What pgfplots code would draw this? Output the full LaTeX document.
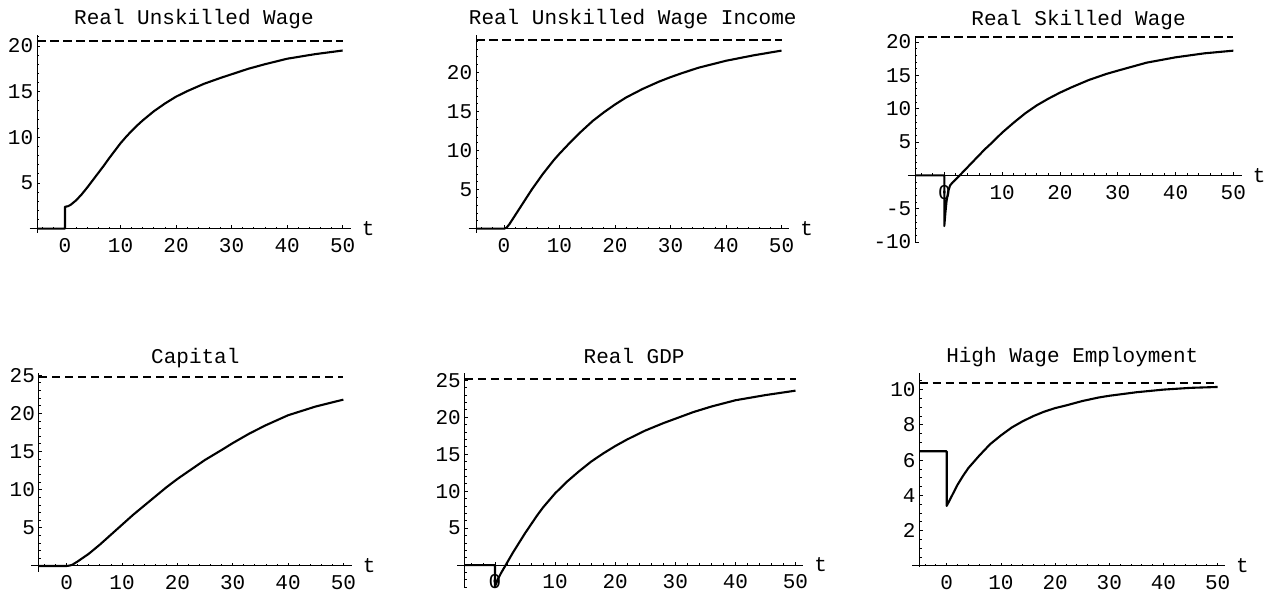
\documentclass[border=0pt]{standalone}
\usepackage{fontspec}
\setmainfont{Liberation Mono}
\usepackage{pgfplots}
\pgfplotsset{compat=1.18}
\pgfplotsset{
  mstyle/.style={
    scale only axis,
    anchor=south west,
    axis x line=middle,
    axis y line=left,
    axis line style={-, line width=0.5pt, black},
    x axis line style={shorten <=-3.75pt},
    tick align=inside,
    major tick length=1.6pt,
    minor tick length=1pt,
    every tick/.style={line width=0.4pt, black},
    xmin=-5,
    xtick={0,10,...,50},
    minor xtick={-4,-2,...,50},
    /pgf/number format/assume math mode=true,
    tick label style={font=\fontsize{10.5}{12}\selectfont},
    yticklabel style={xshift=1.5pt},
    xticklabel style={yshift=-1.3pt},
    xlabel={t},
    every axis x label/.style={at={(current axis.right of origin)}, anchor=west, xshift=2pt, font=\fontsize{10.5}{12}\selectfont},
    every axis title/.style={at={(0.5,1)}, anchor=base, yshift=5pt, font=\fontsize{10.5}{12}\selectfont},
    clip=false,
  },
  cur/.style={black, line width=1.05pt, line join=round},
  dsh/.style={black, line width=1pt, dash pattern=on 4.2pt off 2.3pt},
}
\begin{document}
\begin{tikzpicture}
\useasboundingbox (0,0) rectangle (636.5pt,296pt);
% Panel 1
\begin{axis}[mstyle, at={(18.6pt,179.5pt)}, width=156.75pt, height=99pt,
  xmax=51.45, ymin=-0.47, ymax=21.2, ytick={5,10,15,20}, minor ytick={0,1,...,21},
  title={Real Unskilled Wage}]
\addplot[dsh] coordinates {(-5,20.57) (50,20.57)};
\addplot[cur] coordinates {(-5,0) (0,0) (0,2.4) (0.5,2.45) (1,2.6) (2,3.1) (3,3.75) (4,4.5) (5,5.3) (6,6.1) (7,6.9) (8,7.75) (9,8.55) (10,9.35) (11,10.05) (12,10.7) (13,11.3) (14,11.85) (15,12.35) (16,12.85) (18,13.7) (20,14.45) (22,15.05) (25,15.85) (28,16.5) (30,16.9) (33,17.5) (36,18.0) (40,18.6) (45,19.1) (50,19.5)};
\end{axis}
% Panel 2
\begin{axis}[mstyle, at={(238.1pt,179.5pt)}, width=156.55pt, height=99pt,
  xmax=51.4, ymin=-0.55, ymax=24.8, ytick={5,10,15,20}, minor ytick={0,1,...,24},
  title={Real Unskilled Wage Income}]
\addplot[dsh] coordinates {(-5,24.1) (50,24.1)};
\addplot[cur] coordinates {(-5,0) (0,0) (0.5,0.15) (1,0.6) (2,1.7) (3,2.8) (4,3.9) (5,5.0) (6,6.0) (7,7.0) (8,7.9) (9,8.8) (10,9.6) (12,11.1) (14,12.5) (16,13.8) (18,14.9) (20,15.9) (22,16.8) (25,17.9) (28,18.85) (30,19.4) (32,19.9) (35,20.6) (40,21.5) (45,22.2) (50,22.8)};
\end{axis}
% Panel 3
\begin{axis}[mstyle, at={(457.7pt,174.65pt)}, width=163.15pt, height=103.35pt,
  xmax=51.45, ymin=-10.1, ymax=20.9, ytick={-10,-5,5,10,15,20}, minor ytick={-10,-9,...,20},
  title={Real Skilled Wage}]
\addplot[dsh] coordinates {(-5,20.7) (50,20.7)};
\addplot[cur] coordinates {(-5,0) (0,0) (0,-7.6) (0.2,-5.5) (0.4,-3.8) (0.7,-2.3) (1,-1.5) (1.5,-1.0) (2,-0.6) (3,0.3) (4,1.2) (5,2.1) (6,3.0) (7,3.9) (8,4.7) (10,6.4) (12,7.9) (14,9.3) (16,10.5) (18,11.5) (20,12.4) (22,13.2) (25,14.3) (28,15.2) (30,15.7) (35,16.9) (40,17.7) (45,18.3) (50,18.7)};
\end{axis}
% Panel 4
\begin{axis}[mstyle, at={(19.5pt,10.15pt)}, width=156.35pt, height=99.2pt,
  xmax=51.5, ymin=-0.75, ymax=25.25, ytick={5,10,15,20,25}, minor ytick={0,1,...,25},
  title={Capital}]
\addplot[dsh] coordinates {(-5,24.7) (50,24.7)};
\addplot[cur] coordinates {(-5,0) (0,0) (0.5,0.05) (1,0.15) (2,0.6) (3,1.1) (4,1.6) (5,2.2) (6,2.8) (8,4.1) (10,5.4) (12,6.7) (14,7.9) (16,9.1) (18,10.3) (20,11.4) (22,12.4) (25,13.9) (28,15.2) (30,16.1) (33,17.35) (36,18.45) (40,19.75) (45,20.9) (50,21.8)};
\end{axis}
% Panel 5
\begin{axis}[mstyle, at={(232.45pt,2pt)}, width=169.2pt, height=107.35pt,
  xmax=51.3, ymin=-3.1, ymax=25.95, ytick={5,10,15,20,25}, minor ytick={-3,-2,...,25},
  title={Real GDP}]
\addplot[dsh] coordinates {(-5,25.2) (50,25.2)};
\addplot[cur] coordinates {(-5,0) (0,0) (0,-2.9) (0.5,-1.9) (1,-1.1) (1.5,-0.4) (2,0.3) (3,1.7) (4,3.0) (5,4.3) (6,5.5) (7,6.7) (8,7.8) (10,9.7) (12,11.3) (14,12.7) (16,14.0) (18,15.1) (20,16.1) (22,17.0) (25,18.2) (28,19.2) (30,19.8) (33,20.7) (36,21.45) (40,22.3) (45,23.0) (50,23.6)};
\end{axis}
% Panel 6
\begin{axis}[mstyle, at={(459.8pt,12.65pt)}, width=152.7pt, height=97pt,
  xmax=51.35, ymin=-0.05, ymax=10.96, ytick={2,4,6,8,10}, minor ytick={0.5,1,...,10.5},
  title={High Wage Employment}]
\addplot[dsh] coordinates {(-5,10.4) (50,10.4)};
\addplot[cur] coordinates {(-5,6.5) (0,6.5) (0,3.4) (1,4.0) (2,4.6) (3,5.1) (4,5.55) (5,5.9) (6,6.25) (8,6.9) (10,7.4) (12,7.85) (14,8.2) (16,8.5) (18,8.75) (20,8.95) (22,9.1) (25,9.35) (28,9.55) (30,9.65) (35,9.85) (40,10.0) (45,10.1) (50,10.15)};
\end{axis}
\end{tikzpicture}
\end{document}
